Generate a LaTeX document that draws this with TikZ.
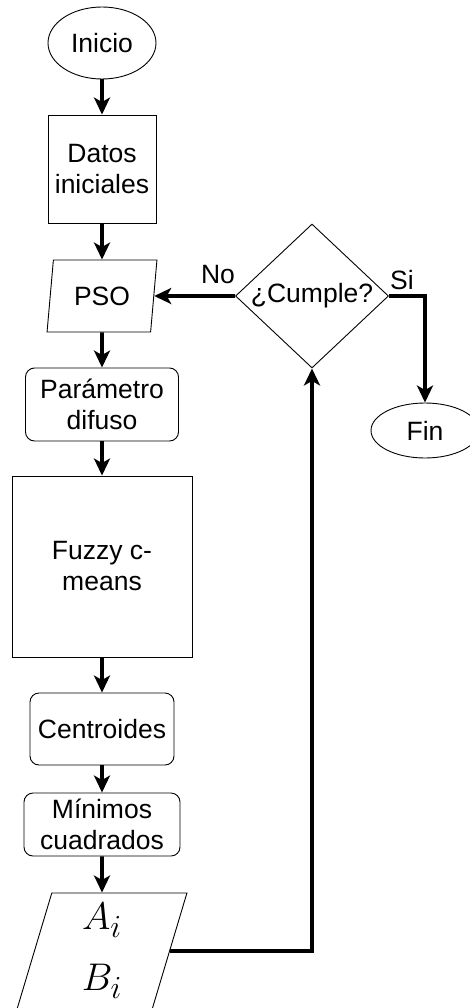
\documentclass[tikz,border=0pt]{standalone}
\usepackage{graphicx}
\usepackage{fontspec}
\setmainfont{Liberation Sans}
\usetikzlibrary{shapes.geometric,arrows.meta}
\newcommand{\bigmath}[1]{\scalebox{1.55}{$#1$}}
\begin{document}
\begin{tikzpicture}[x=1pt,y=-1pt,
  font=\fontsize{26.5}{31}\selectfont,
  box/.style={draw, line width=0.9pt, align=center, inner sep=0pt},
  proc/.style={box, rectangle},
  rproc/.style={box, rectangle, rounded corners=9pt},
  term/.style={box, ellipse},
  io/.style={box, trapezium, trapezium left angle=#1, trapezium right angle={180-#1},
    trapezium stretches=true},
  test/.style={box, diamond},
  lbl/.style={inner sep=0pt},
  arr/.style={line width=3.6pt, -{Stealth[length=17pt,width=16pt,inset=4.5pt]}}]
\clip (0,0) rectangle (470,1008);

% main column
\node[term, minimum width=108pt, minimum height=72pt] (ini) at (102,43) {Inicio};
\node[proc, minimum width=108pt, minimum height=108pt] (dat) at (102,169) {Datos\\iniciales};
\node[io=79, minimum width=110pt, minimum height=72pt] (pso) at (102,296) {PSO};
\node[rproc, minimum width=153pt, minimum height=73pt] (par) at (102,404.5) {Parámetro\\difuso};
\node[proc, minimum width=180pt, minimum height=181pt] (fcm) at (102,566.5) {Fuzzy c-\\means};
\node[rproc, minimum width=144pt, minimum height=72pt] (cen) at (102,729) {Centroides};
\node[rproc, minimum width=156pt, minimum height=63pt] (min) at (102,824.5) {Mínimos\\cuadrados};
\node[io=81.7, minimum width=170pt, minimum height=116pt, font=\fontsize{24.88}{30}\selectfont]
  (ab) at (102,951) {\bigmath{A_i}\\[26pt]\bigmath{B_i}};

% decision and end
\node[test, minimum width=153pt, minimum height=144pt] (cum) at (312,296) {\makebox[0pt]{¿Cumple?}};
\node[term, minimum width=108pt, minimum height=55pt] (fin) at (425,430.5) {Fin};

\node[lbl] (no) at (218,275) {No};
\node[lbl] (si) at (402,280) {Si};

% connectors
\draw[arr] (ini) -- (dat);
\draw[arr] (dat) -- (pso);
\draw[arr] (pso) -- (par);
\draw[arr] (par) -- (fcm);
\draw[arr] (fcm) -- (cen);
\draw[arr] (cen) -- (min);
\draw[arr] (min) -- (ab);
\draw[arr] (cum.west) -- (pso);
\draw[arr] (cum.east) -| (fin);
\draw[arr] (ab.east) -| (cum.south);
\end{tikzpicture}
\end{document}
